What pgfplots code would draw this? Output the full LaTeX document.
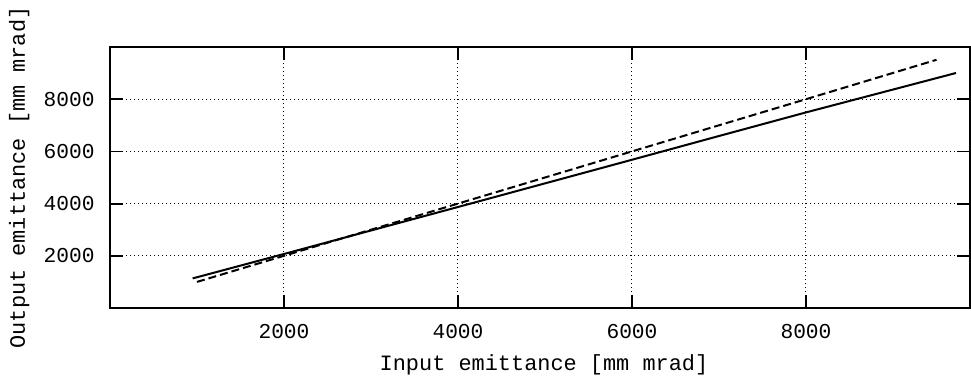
\documentclass[border=0pt]{standalone}
\usepackage{fontspec}
\setmainfont{Liberation Mono}
\usepackage{pgfplots}
\pgfplotsset{compat=1.18}
\begin{document}
\fontsize{10.6}{12}\selectfont
\begin{tikzpicture}
\useasboundingbox (-55pt,-36.5pt) rectangle (430.5pt,154pt);
\begin{axis}[
  at={(0,0)}, anchor=south west,
  scale only axis,
  width=430pt, height=130.5pt,
  xmin=0, xmax=9885, ymin=0, ymax=10000,
  xtick={2000,4000,6000,8000},
  ytick={2000,4000,6000,8000},
  scaled x ticks=false, scaled y ticks=false,
  /pgf/number format/assume math mode=true,
  /pgf/number format/1000 sep={},
  tick align=inside,
  major tick length=6.5pt,
  every tick/.style={black, line width=0.9pt},
  axis line style={line width=0.9pt},
  grid=major,
  grid style={black, line width=0.5pt, dash pattern=on 0.5pt off 1.5pt},
  xticklabel style={anchor=base, yshift=-15pt, inner sep=0pt},
  yticklabel style={anchor=east, xshift=-7.5pt, inner sep=0pt},
  xlabel={Input emittance [mm mrad]},
  ylabel={Output emittance [mm mrad]},
  xlabel style={at={(axis description cs:0.5,0)}, anchor=base, yshift=-31pt, xshift=2pt, inner sep=0pt},
  ylabel style={at={(axis description cs:0,0.5)}, anchor=base, yshift=42.5pt, inner sep=0pt},
  label style={font=\fontsize{10.95}{12}\selectfont},
  ticklabel style={font=\fontsize{10.6}{12}\selectfont},
]
\addplot[black, line width=1pt] coordinates {
  (950,1134) (2000,2070) (3000,2970) (4000,3870) (5000,4775)
  (6000,5680) (7000,6590) (8000,7494) (9000,8370) (9724,9004)
};
\addplot[black, line width=1pt, dash pattern=on 4pt off 2pt] coordinates {
  (1000,1000) (2000,2000) (4000,4000) (6000,6000) (8000,8000) (9500,9510)
};
\end{axis}
\end{tikzpicture}
\end{document}
